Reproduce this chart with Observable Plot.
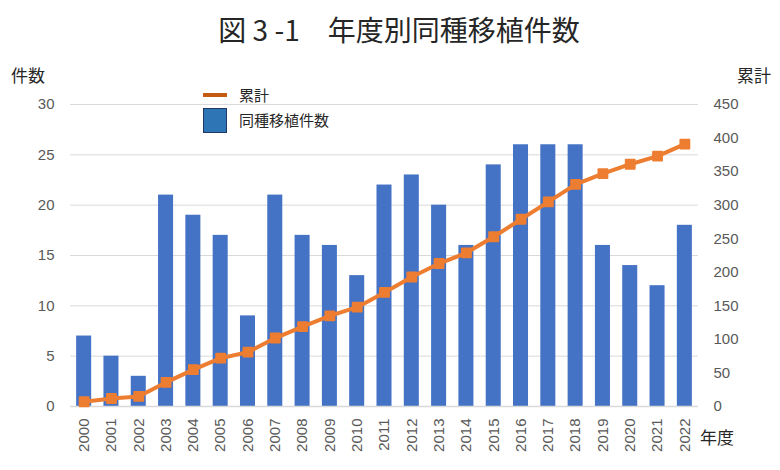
<!DOCTYPE html>
<html><head><meta charset="utf-8">
<script src="https://cdn.jsdelivr.net/npm/d3@7"></script>
<script src="https://cdn.jsdelivr.net/npm/@observablehq/plot@0.6"></script>
<style>
body{margin:0;background:#fff;font-family:"Noto Sans CJK JP",sans-serif;}
#wrap{position:relative;width:780px;height:470px;}
.t{position:absolute;color:#262626;white-space:nowrap;}
</style></head><body>
<div id="wrap"></div>
<script>
const years = ["2000","2001","2002","2003","2004","2005","2006","2007","2008","2009","2010","2011","2012","2013","2014","2015","2016","2017","2018","2019","2020","2021","2022"];
const counts = [7,5,3,21,19,17,9,21,17,16,13,22,23,20,16,24,26,26,26,16,14,12,18];
const cumulative = [7,12,15,36,55,72,81,102,119,135,148,170,193,213,229,253,279,305,331,347,361,373,391];
const leftTicks = [0,5,10,15,20,25,30];
const rightTicks = [0,50,100,150,200,250,300,350,400,450];
const title = "図 3 -1　年度別同種移植件数";
const leftLabel = "件数", rightLabel = "累計", xLabel = "年度";
const legendLine = "累計", legendBar = "同種移植件数";

const ratio = 450/30;
const bars = years.map((y,i)=>({year:y, count:counts[i]}));
const line = years.map((y,i)=>({year:y, cum:cumulative[i]/ratio}));
const tickFont = "'Liberation Sans', 'Noto Sans', sans-serif";

const chart = Plot.plot({
  width:780, height:470,
  marginLeft:70, marginRight:82, marginTop:104, marginBottom:64,
  style:{fontFamily:tickFont, fontSize:"15px", color:"#595959", background:"#fff"},
  x:{domain:years, paddingInner:0.45, paddingOuter:0.225, round:false, label:null},
  y:{domain:[0,30], label:null},
  marks:[
    Plot.gridY(leftTicks, {stroke:"#d9d9d9", strokeOpacity:1}),
    Plot.rectY(bars, {x:"year", y:"count", fill:"#4472C4"}),
    Plot.ruleY([0], {stroke:"#d9d9d9", strokeWidth:1.5}),
    Plot.line(line, {x:"year", y:"cum", stroke:"#ED7D31", strokeWidth:4}),
    Plot.dot(line, {x:"year", y:"cum", symbol:"square", r:5, fill:"#ED7D31", stroke:"#ED7D31", strokeWidth:2, strokeLinejoin:"round"}),
    Plot.axisY(leftTicks, {anchor:"left", tickSize:0, tickPadding:16, label:null, fontSize:15, fill:"#595959"}),
    Plot.axisY(rightTicks.map(d=>d/ratio), {anchor:"right", tickSize:0, tickPadding:15, label:null, tickFormat:d=>String(Math.round(d*ratio)), fontSize:15, fill:"#595959"}),
    Plot.axisX({tickSize:0, tickPadding:12, tickRotate:-90, label:null, fontSize:15, fill:"#595959"})
  ]
});
const wrap = document.getElementById("wrap");
wrap.appendChild(chart);
function addText(txt, x, y, size, extra){
  const d=document.createElement("div"); d.className="t"; d.textContent=txt;
  d.style.left=x+"px"; d.style.top=y+"px"; d.style.fontSize=size+"px"; d.style.lineHeight="1";
  if(extra) Object.assign(d.style, extra);
  wrap.appendChild(d);
}
addText(title, 0, 15, 28, {width:"780px", textAlign:"center", paddingLeft:"18px", boxSizing:"border-box"});
addText(leftLabel, 11, 66, 17);
addText(rightLabel, 737, 66, 17);
addText(xLabel, 700, 428, 17);
// legend
const lg = document.createElement("div");
lg.style.cssText="position:absolute;left:203px;top:93px;width:24px;height:4px;background:#C55A11;";
wrap.appendChild(lg);
const sq = document.createElement("div");
sq.style.cssText="position:absolute;left:203px;top:108px;width:22px;height:23px;background:#2E75B6;border:1px solid #1F3864;";
wrap.appendChild(sq);
addText(legendLine, 239, 87, 15);
addText(legendBar, 239, 112, 15);
</script>
</body></html>
